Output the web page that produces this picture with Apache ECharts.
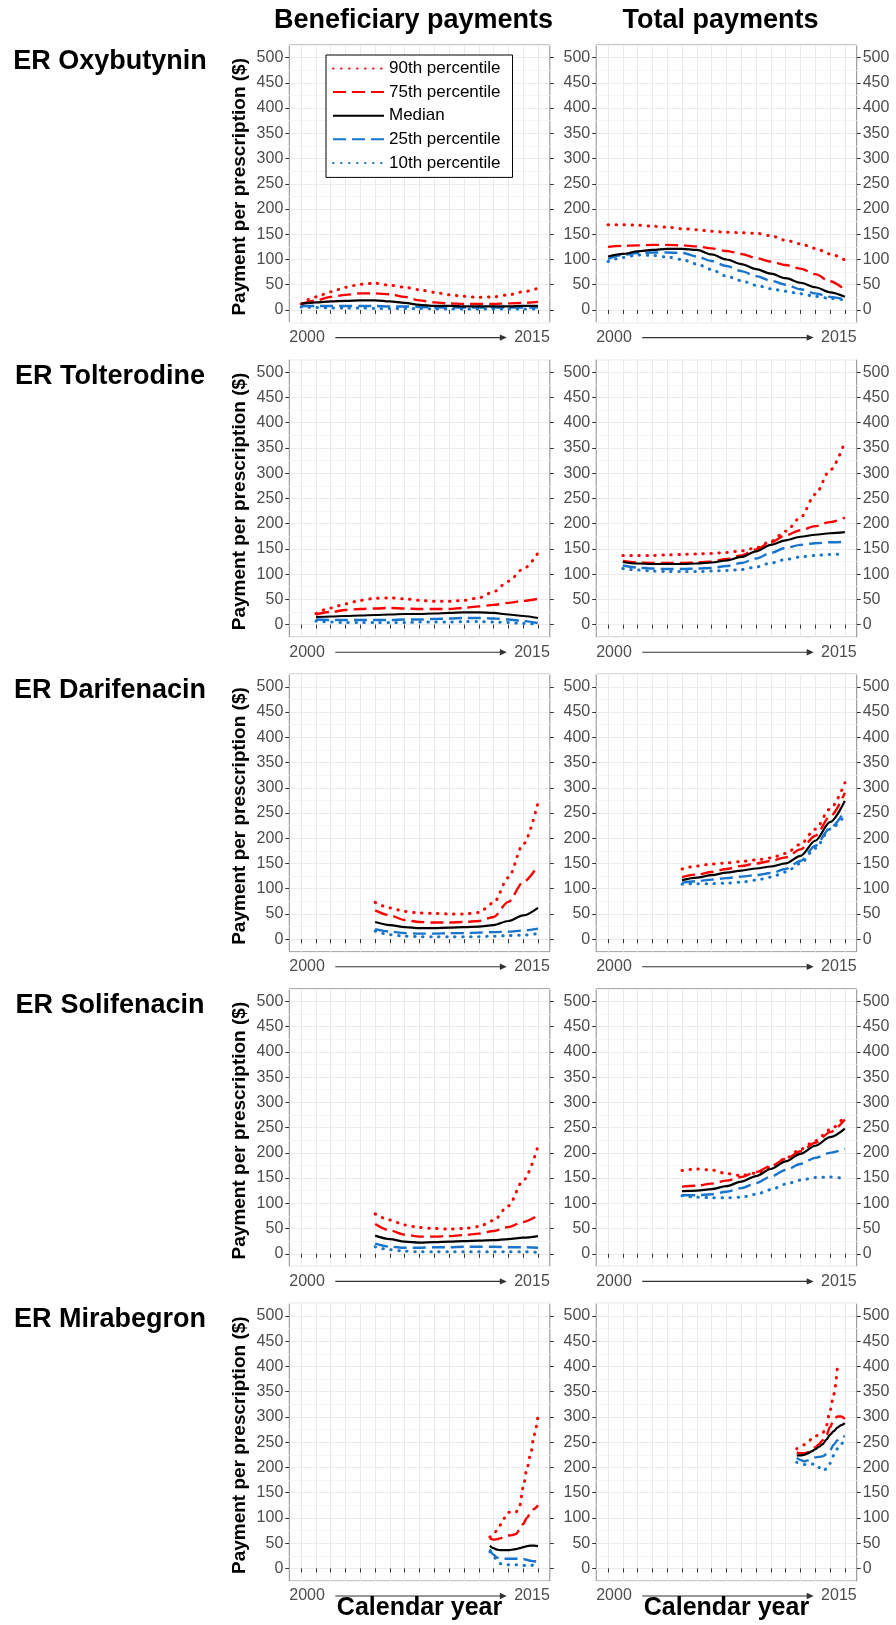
<!DOCTYPE html>
<html>
<head>
<meta charset="utf-8">
<script src="https://cdn.jsdelivr.net/npm/echarts@6/dist/echarts.min.js"></script>
<style>
html,body{margin:0;padding:0;background:#ffffff;}
#chart{width:896px;height:1625px;}
</style>
</head>
<body>
<div id="chart"></div>
<script>
// ---------------- data ----------------
const years = [2000, 2001, 2002, 2003, 2004, 2005, 2006, 2007, 2008, 2009, 2010, 2011, 2012, 2013, 2014, 2015, 2016];
const mirabegronQuarters = [2012.75, 2013, 2013.25, 2013.5, 2013.75, 2014, 2014.25, 2014.5, 2014.75, 2015, 2015.25, 2015.5, 2015.75, 2016];
const drugNames = ['ER Oxybutynin', 'ER Tolterodine', 'ER Darifenacin', 'ER Solifenacin', 'ER Mirabegron'];
const columnTitles = ['Beneficiary payments', 'Total payments'];
const seriesNames = ['90th percentile', '75th percentile', 'Median', '25th percentile', '10th percentile'];
const xEndLabels = ['2000', '2015'];
const yTickMin = 0, yTickMax = 500, yTickStep = 50;
const yAxisTitle = 'Payment per prescription ($)';
const xAxisTitle = 'Calendar year';
const n = null;

const oxybutyninBeneficiary = {
  p90: [12, 26, 36, 45, 51, 53, 49, 45, 40, 35, 30, 27, 25, 26, 30, 36, 43],
  p75: [12, 19, 26, 30, 33, 33, 31, 26, 19, 15, 13, 12, 12, 12, 13, 14, 16],
  p50: [12, 15, 17, 18, 19, 19, 17, 14, 10, 8, 8, 7, 7, 7, 7, 8, 8],
  p25: [8, 8, 8, 8, 8, 8, 7, 7, 6, 5, 5, 5, 5, 5, 5, 5, 5],
  p10: [6, 5, 4, 4, 4, 3, 3, 3, 3, 2, 2, 2, 2, 2, 2, 2, 2]
};
const oxybutyninTotal = {
  p90: [169, 169, 168, 166, 164, 161, 159, 156, 154, 153, 152, 147, 138, 131, 122, 111, 99],
  p75: [125, 127, 128, 129, 129, 128, 126, 122, 117, 111, 103, 96, 89, 82, 71, 57, 40],
  p50: [106, 111, 116, 119, 121, 121, 119, 110, 100, 91, 81, 72, 63, 54, 45, 35, 26],
  p25: [101, 109, 113, 114, 114, 113, 106, 97, 87, 77, 67, 58, 50, 41, 33, 26, 21],
  p10: [96, 104, 109, 108, 105, 100, 91, 80, 67, 58, 49, 42, 37, 32, 27, 23, 20]
};
const tolterodineBeneficiary = {
  p90: [n, 22, 33, 41, 48, 52, 53, 51, 48, 46, 46, 48, 53, 65, 86, 110, 142],
  p75: [n, 20, 25, 29, 31, 32, 33, 32, 31, 31, 31, 33, 36, 39, 43, 47, 51],
  p50: [n, 15, 16, 17, 18, 19, 20, 21, 21, 22, 23, 24, 24, 23, 20, 17, 13],
  p25: [n, 10, 9, 9, 9, 9, 9, 10, 10, 11, 12, 13, 13, 12, 10, 7, 3],
  p10: [n, 7, 5, 4, 4, 4, 4, 4, 5, 5, 5, 6, 6, 5, 4, 2, 1]
};
const tolterodineTotal = {
  p90: [n, 137, 137, 137, 138, 139, 140, 141, 143, 146, 152, 165, 185, 212, 258, 306, 362],
  p75: [n, 126, 123, 122, 122, 122, 123, 125, 130, 137, 149, 163, 177, 187, 195, 203, 212],
  p50: [n, 124, 121, 120, 120, 120, 121, 123, 127, 134, 145, 158, 167, 174, 178, 181, 183],
  p25: [n, 117, 113, 111, 110, 110, 111, 112, 116, 122, 131, 142, 152, 158, 161, 163, 164],
  p10: [n, 111, 108, 106, 105, 105, 105, 106, 107, 109, 114, 122, 129, 134, 137, 139, 140]
};
const darifenacinBeneficiary = {
  p90: [n, n, n, n, n, 73, 62, 55, 52, 51, 50, 50, 53, 72, 122, 188, 270],
  p75: [n, n, n, n, n, 57, 47, 38, 34, 33, 33, 34, 36, 44, 74, 113, 146],
  p50: [n, n, n, n, n, 34, 28, 24, 22, 22, 23, 24, 25, 28, 36, 47, 62],
  p25: [n, n, n, n, n, 20, 15, 12, 11, 11, 12, 12, 13, 14, 15, 17, 21],
  p10: [n, n, n, n, n, 16, 9, 6, 5, 5, 5, 5, 5, 6, 7, 8, 11]
};
const darifenacinTotal = {
  p90: [n, n, n, n, n, 139, 145, 149, 151, 154, 157, 161, 170, 188, 218, 258, 310],
  p75: [n, n, n, n, n, 123, 128, 133, 139, 145, 150, 155, 162, 178, 205, 243, 290],
  p50: [n, n, n, n, n, 117, 122, 127, 132, 136, 140, 144, 150, 165, 195, 232, 274],
  p25: [n, n, n, n, n, 112, 115, 118, 121, 124, 127, 131, 139, 155, 185, 220, 255],
  p10: [n, n, n, n, n, 109, 110, 110, 111, 113, 117, 123, 133, 150, 180, 218, 245]
};
const solifenacinBeneficiary = {
  p90: [n, n, n, n, n, 79, 67, 57, 52, 50, 49, 50, 54, 66, 95, 145, 213],
  p75: [n, n, n, n, n, 59, 46, 38, 34, 34, 35, 37, 40, 45, 53, 63, 76],
  p50: [n, n, n, n, n, 36, 29, 24, 22, 23, 24, 25, 26, 27, 29, 32, 35],
  p25: [n, n, n, n, n, 20, 14, 12, 12, 13, 13, 14, 14, 14, 13, 13, 12],
  p10: [n, n, n, n, n, 14, 8, 5, 4, 4, 4, 4, 4, 4, 4, 4, 3]
};
const solifenacinTotal = {
  p90: [n, n, n, n, n, 165, 168, 166, 159, 155, 160, 172, 189, 207, 224, 246, 273],
  p75: [n, n, n, n, n, 133, 135, 139, 145, 152, 162, 174, 188, 203, 220, 241, 266],
  p50: [n, n, n, n, n, 124, 125, 128, 134, 143, 154, 168, 183, 198, 214, 231, 248],
  p25: [n, n, n, n, n, 116, 116, 118, 123, 130, 140, 153, 166, 178, 190, 200, 208],
  p10: [n, n, n, n, n, 115, 112, 111, 111, 112, 118, 127, 138, 146, 151, 152, 149]
};
const mirabegronBeneficiary = {
  p90: [62, 68, 76, 87, 100, 111, 111, 111, 122, 160, 197, 226, 265, 301],
  p75: [60, 57, 58, 60, 63, 65, 66, 68, 76, 88, 100, 110, 118, 125],
  p50: [45, 40, 37, 36, 36, 36, 37, 38, 40, 42, 44, 45, 45, 44],
  p25: [38, 27, 21, 19, 19, 19, 19, 19, 19, 19, 17, 15, 14, 13],
  p10: [33, 24, 15, 9, 7, 7, 7, 7, 7, 6, 5, 5, 8, 12]
};
const mirabegronTotal = {
  p90: [237, 241, 245, 251, 256, 262, 265, 268, 283, 313, 345, 399, n, n],
  p75: [230, 228, 228, 230, 234, 240, 246, 254, 264, 280, 295, 301, 301, 296],
  p50: [224, 224, 225, 228, 232, 236, 241, 246, 255, 265, 272, 279, 284, 288],
  p25: [219, 215, 212, 214, 218, 220, 221, 222, 226, 234, 245, 254, 260, 262],
  p10: [210, 208, 206, 206, 207, 207, 200, 193, 197, 208, 224, 237, 247, 253]
};

// ---------------- layout & styles ----------------
const FONT = '"Liberation Sans", Arial, Helvetica, sans-serif';
const colLeft = [289.3, 596.2];
const panelW = 260.5;
const rowTop0 = 45, rowStep = 314.6, panelH = 277.6;
const xSpan = years[years.length - 1] - years[0];
const xPad = xSpan * 0.05;                        // ggplot default expansion
const yPad = (yTickMax - yTickMin) * 0.05;
const padXpx = panelW * xPad / (xSpan + 2 * xPad);
const padYpx = panelH * yPad / (yTickMax - yTickMin + 2 * yPad);

const lineStyles = [
  { color: '#FF0000', type: [0.5, 7.5], width: 3, cap: 'round' },
  { color: '#FF0000', type: [13, 6], width: 2.4 },
  { color: '#000000', type: 'solid', width: 2.2 },
  { color: '#1874CD', type: [13, 6], width: 2.4 },
  { color: '#1874CD', type: [0.5, 7.5], width: 3, cap: 'round' }
];
const keys = ['p90', 'p75', 'p50', 'p25', 'p10'];

const panels = [
  [oxybutyninBeneficiary, years], [oxybutyninTotal, years],
  [tolterodineBeneficiary, years], [tolterodineTotal, years],
  [darifenacinBeneficiary, years], [darifenacinTotal, years],
  [solifenacinBeneficiary, years], [solifenacinTotal, years],
  [mirabegronBeneficiary, mirabegronQuarters], [mirabegronTotal, mirabegronQuarters]
];

const grid = [], xAxis = [], yAxis = [], series = [], graphics = [];
const tickColor = '#333333', labelColor = '#4d4d4d';

panels.forEach(function (pd, p) {
  const r = Math.floor(p / 2), c = p % 2;
  const L = colLeft[c], T = rowTop0 + r * rowStep;
  // outer panel (border + grid lines)
  grid.push({ left: L, top: T, width: panelW, height: panelH, show: true, backgroundColor: '#ffffff',
    borderColor: '#8a8a8a', borderWidth: 1, containLabel: false, outerBoundsMode: 'none' });
  // inner data area
  grid.push({ left: L + padXpx, top: T + padYpx, width: panelW - 2 * padXpx, height: panelH - 2 * padYpx,
    show: false, containLabel: false, outerBoundsMode: 'none' });
  const go = 2 * p, gi = 2 * p + 1;
  const xLines = ['rgba(0,0,0,0)', 'rgba(0,0,0,0)', 'rgba(0,0,0,0)', 'rgba(0,0,0,0)', '#ebebeb'];
  xAxis.push({ type: 'value', gridIndex: go, min: years[0] - xPad, max: years[years.length - 1] + xPad, interval: 0.2,
    axisLine: { show: false }, axisTick: { show: false }, axisLabel: { show: false },
    splitLine: { show: true, showMinLine: true, showMaxLine: true, lineStyle: { color: xLines, width: 1 } } });
  xAxis.push({ type: 'value', gridIndex: gi, min: years[0], max: years[years.length - 1], interval: 1,
    position: 'bottom', offset: padYpx,
    axisLine: { show: false }, axisTick: { show: true, inside: false, length: 4, lineStyle: { color: tickColor, width: 1 } },
    axisLabel: { show: false }, splitLine: { show: false } });
  yAxis.push({ type: 'value', gridIndex: go, min: yTickMin - yPad, max: yTickMax + yPad, interval: yPad,
    axisLine: { show: false }, axisTick: { show: false }, axisLabel: { show: false },
    splitLine: { show: true, showMinLine: true, showMaxLine: true, lineStyle: { color: ['#f5f5f5', '#ebebeb'], width: 1 } } });
  const labelStyle = { show: true, color: labelColor, fontSize: 16, fontFamily: FONT, margin: 6,
    showMinLabel: true, showMaxLabel: true, hideOverlap: false };
  yAxis.push({ type: 'value', gridIndex: gi, min: yTickMin, max: yTickMax, interval: yTickStep, position: 'left', offset: padXpx,
    axisLine: { show: false }, axisTick: { show: true, length: 4, lineStyle: { color: tickColor, width: 1 } },
    axisLabel: labelStyle, splitLine: { show: false } });
  yAxis.push({ type: 'value', gridIndex: gi, min: yTickMin, max: yTickMax, interval: yTickStep, position: 'right', offset: padXpx,
    axisLine: { show: false }, axisTick: { show: true, length: 4, lineStyle: { color: tickColor, width: 1 } },
    axisLabel: Object.assign({}, labelStyle, { show: c === 1 }), splitLine: { show: false } });

  const d = pd[0], xs = pd[1];
  keys.forEach(function (k, s) {
    const pts = [];
    xs.forEach(function (x, i) { if (d[k][i] !== null && d[k][i] !== undefined) pts.push([x, d[k][i]]); });
    series.push({
      name: seriesNames[s], type: 'line', xAxisIndex: 2 * p + 1, yAxisIndex: 3 * p + 1,
      data: pts, symbol: 'none', showSymbol: false, smooth: 0.3, smoothMonotone: 'x',
      lineStyle: lineStyles[s], itemStyle: { color: lineStyles[s].color },
      z: 3 + (s === 2 ? 1 : 0), silent: true, animation: false
    });
  });

  // x-axis "2000 ----> 2015" annotation
  const yb = T + panelH + 15;
  graphics.push({ type: 'text', x: L, y: yb, style: { text: xEndLabels[0], fill: labelColor, font: '16px ' + FONT, align: 'left', verticalAlign: 'middle' } });
  graphics.push({ type: 'text', x: L + panelW, y: yb, style: { text: xEndLabels[1], fill: labelColor, font: '16px ' + FONT, align: 'right', verticalAlign: 'middle' } });
  const ax0 = L + 46, ax1 = L + panelW - 43;
  graphics.push({ type: 'line', shape: { x1: ax0, y1: yb, x2: ax1 - 4, y2: yb }, style: { stroke: '#333333', lineWidth: 1.1 } });
  graphics.push({ type: 'polygon', shape: { points: [[ax1, yb], [ax1 - 7, yb - 3.2], [ax1 - 7, yb + 3.2]] }, style: { fill: '#333333' } });

  if (c === 0) {
    graphics.push({ type: 'text', x: 110, y: T + 16.5, style: { text: drugNames[r], fill: '#000000', font: 'bold 27px ' + FONT, align: 'center', verticalAlign: 'middle' } });
    graphics.push({ type: 'text', x: 240, y: T + panelH / 2 + 3, rotation: Math.PI / 2,
      style: { text: yAxisTitle, fill: '#000000', font: 'bold 19px ' + FONT, align: 'center', verticalAlign: 'middle' } });
  }
  if (r === 0) {
    graphics.push({ type: 'text', x: L + panelW / 2 - 6, y: 21, style: { text: columnTitles[c], fill: '#000000', font: 'bold 27px ' + FONT, align: 'center', verticalAlign: 'middle' } });
  }
  if (r === 4) {
    graphics.push({ type: 'text', x: L + panelW / 2, y: 1608, style: { text: xAxisTitle, fill: '#000000', font: 'bold 25px ' + FONT, align: 'center', verticalAlign: 'middle' } });
  }
});

const chart = echarts.init(document.getElementById('chart'), null, { renderer: 'canvas', width: 896, height: 1625 });
chart.setOption({
  animation: false,
  backgroundColor: '#ffffff',
  grid: grid,
  xAxis: xAxis,
  yAxis: yAxis,
  series: series,
  legend: {
    data: seriesNames, orient: 'vertical', left: 326, top: 55,
    backgroundColor: '#ffffff', borderColor: '#000000', borderWidth: 1,
    padding: [5, 12, 6, 6], itemWidth: 51, itemHeight: 16, itemGap: 6.6,
    itemStyle: { opacity: 0 },
    selectedMode: false, textStyle: { fontSize: 17, color: '#000000', fontFamily: FONT }, z: 10
  },
  graphic: { elements: graphics }
});
</script>
</body>
</html>
